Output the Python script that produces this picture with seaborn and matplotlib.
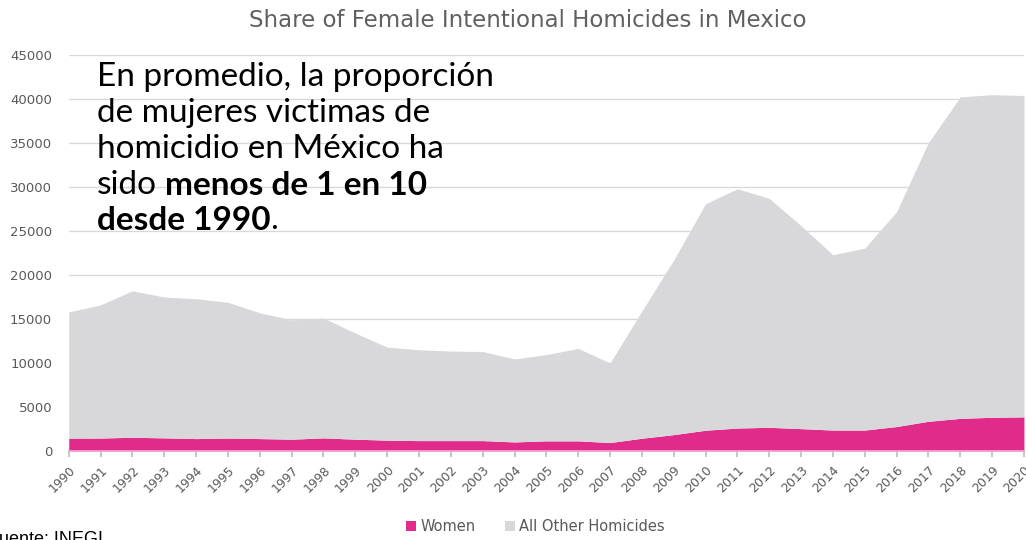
import matplotlib
matplotlib.use("Agg")
import matplotlib.pyplot as plt
import seaborn as sns
import pandas as pd

# datos (INEGI)
years = list(range(1990, 2021))
women = [1450, 1460, 1550, 1480, 1400, 1460, 1400, 1330, 1480, 1330,
         1220, 1170, 1170, 1170, 1020, 1140, 1140, 950, 1440, 1850,
         2350, 2600, 2680, 2530, 2370, 2370, 2770, 3370, 3700, 3820, 3870]
other = [14350, 15140, 16650, 16020, 15900, 15440, 14300, 13570, 13620, 12070,
         10580, 10330, 10180, 10130, 9430, 9810, 10510, 9050, 14460, 19850,
         25750, 27200, 26020, 23070, 19930, 20680, 24430, 31680, 36550, 36680, 36530]
series_names = ["Women", "All Other Homicides"]
yticks = list(range(0, 45001, 5000))

df = pd.DataFrame({"year": years, "Women": women, "All Other Homicides": other})

sns.set_theme(style="white")
plt.rcParams["font.family"] = ["DejaVu Sans"]
colors = ["#E02B8A", "#D8D8DB"]

fig = plt.figure(figsize=(10.26, 5.4), dpi=100)
ax = fig.add_axes([0.067, 0.165, 0.931, 0.733])

ax.stackplot(df["year"], df["Women"], df["All Other Homicides"],
             colors=colors, labels=series_names, linewidth=0, zorder=2)

ax.set_xlim(1990, 2020)
ax.set_ylim(0, 45000)
ax.set_yticks(yticks)
ax.set_yticklabels([str(v) for v in yticks], color="#595959", fontsize=9.5)
ax.set_xticks(years)
ax.set_xticklabels([str(y) for y in years], rotation=45, ha="right",
                   rotation_mode="anchor", color="#595959", fontsize=9)
ax.yaxis.grid(True, color="#D9D9D9", linewidth=1, zorder=0)
ax.tick_params(axis="y", length=0, pad=12)
ax.tick_params(axis="x", length=4, color="#BFBFBF", pad=5, bottom=True)
sns.despine(ax=ax, left=True, top=True, right=True)
ax.spines["bottom"].set_color("#F2A5CF")
ax.set_axisbelow(True)

fig.text(0.514, 0.962, "Share of Female Intentional Homicides in Mexico",
         ha="center", va="center", fontsize=16.5, color="#606060")

# texto del recuadro, linea por linea
W, H = 1026, 540
x0 = 97 / W
base = [86, 122, 158, 194, 230]
box = dict(fontsize=24, color="black", family="Lato", va="baseline", ha="left")
fig.text(x0, 1 - base[0] / H, "En promedio, la proporción", **box)
fig.text(x0, 1 - base[1] / H, "de mujeres victimas de", **box)
fig.text(x0, 1 - base[2] / H, "homicidio en México ha", **box)
t4 = fig.text(x0, 1 - base[3] / H, "sido", **box)
ax.annotate("menos de 1 en 10", xy=(1, 0), xycoords=t4, xytext=(6, 0),
            textcoords="offset points", fontsize=24, color="black",
            family="Lato", fontweight="bold", va="bottom", ha="left")
t5 = fig.text(x0, 1 - base[4] / H, "desde 1990", fontweight="bold", **box)
ax.annotate(".", xy=(1, 0), xycoords=t5, xytext=(0, 0),
            textcoords="offset points", fontsize=24, color="black",
            family="Lato", va="bottom", ha="left")

handles, labels = ax.get_legend_handles_labels()
fig.legend(handles, labels, loc="center", bbox_to_anchor=(0.522, 0.025),
           ncol=2, frameon=False, fontsize=10.5, handlelength=0.7,
           handleheight=0.7, handletextpad=0.3, columnspacing=2,
           labelcolor="#595959")

fig.text(-0.012, 0.0, "Fuente: INEGI", ha="left", va="center",
         fontsize=13, color="black", family="Liberation Sans")

fig.savefig("out.png", dpi=100)
